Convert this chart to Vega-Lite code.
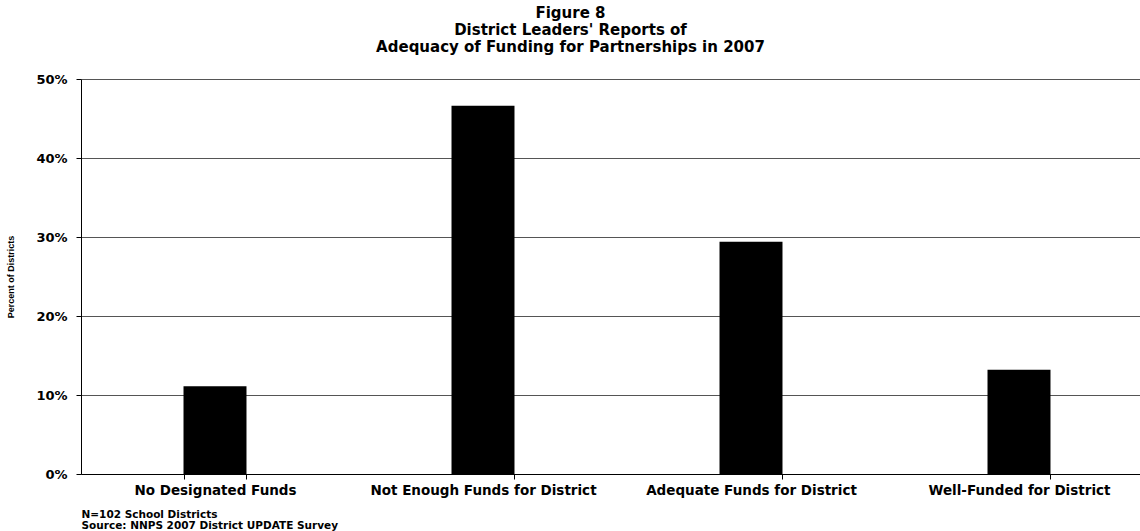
{
  "$schema": "https://vega.github.io/schema/vega-lite/v6.json",
  "autosize": {"type": "none"},
  "padding": {"left": 81, "top": 79, "right": 0, "bottom": 57},
  "width": 1059,
  "height": 395,
  "background": "white",
  "title": {
    "text": ["Figure 8", "District Leaders' Reports of", "Adequacy of Funding for Partnerships in 2007"],
    "font": "DejaVu Sans",
    "fontSize": 15,
    "fontWeight": "bold",
    "color": "black",
    "lineHeight": 17,
    "anchor": "middle",
    "dx": -40,
    "offset": 18
  },
  "data": {
    "values": [
      {"category": "No Designated Funds", "pct": 0.111},
      {"category": "Not Enough Funds for District", "pct": 0.466},
      {"category": "Adequate Funds for District", "pct": 0.294},
      {"category": "Well-Funded for District", "pct": 0.132}
    ]
  },
  "mark": {"type": "bar", "color": "black"},
  "encoding": {
    "x": {
      "field": "category",
      "type": "nominal",
      "sort": null,
      "scale": {"range": [0, 1072], "paddingInner": 0.765, "paddingOuter": 0.3825},
      "axis": {
        "title": ["N=102 School Districts", "Source: NNPS 2007 District UPDATE Survey"],
        "titleFont": "DejaVu Sans",
        "titleFontSize": 10.5,
        "titleFontWeight": "bold",
        "titleColor": "black",
        "titleAnchor": "start",
        "titleAlign": "left",
        "titleLineHeight": 11,
        "titlePadding": 13,
        "labelAngle": 0,
        "labelFont": "DejaVu Sans",
        "labelFontSize": 13.5,
        "labelFontWeight": "bold",
        "labelColor": "black",
        "labelPadding": 4,
        "labelLimit": 0,
        "tickBand": "extent",
        "tickColor": "black",
        "tickSize": 5,
        "domainColor": "black",
        "grid": false
      }
    },
    "y": {
      "field": "pct",
      "type": "quantitative",
      "scale": {"domain": [0, 0.5], "nice": false},
      "axis": {
        "values": [0, 0.1, 0.2, 0.3, 0.4, 0.5],
        "format": ".0%",
        "title": "Percent of Districts",
        "titleFont": "Liberation Sans",
        "titleFontSize": 9,
        "titleFontWeight": "bold",
        "titleColor": "black",
        "titlePadding": 20,
        "labelFont": "DejaVu Sans",
        "labelFontSize": 13,
        "labelFontWeight": "bold",
        "labelColor": "black",
        "labelPadding": 9,
        "tickColor": "black",
        "tickSize": 5,
        "domainColor": "black",
        "grid": true,
        "gridColor": "#555555",
        "gridWidth": 1
      }
    }
  },
  "config": {"view": {"stroke": null}}
}
